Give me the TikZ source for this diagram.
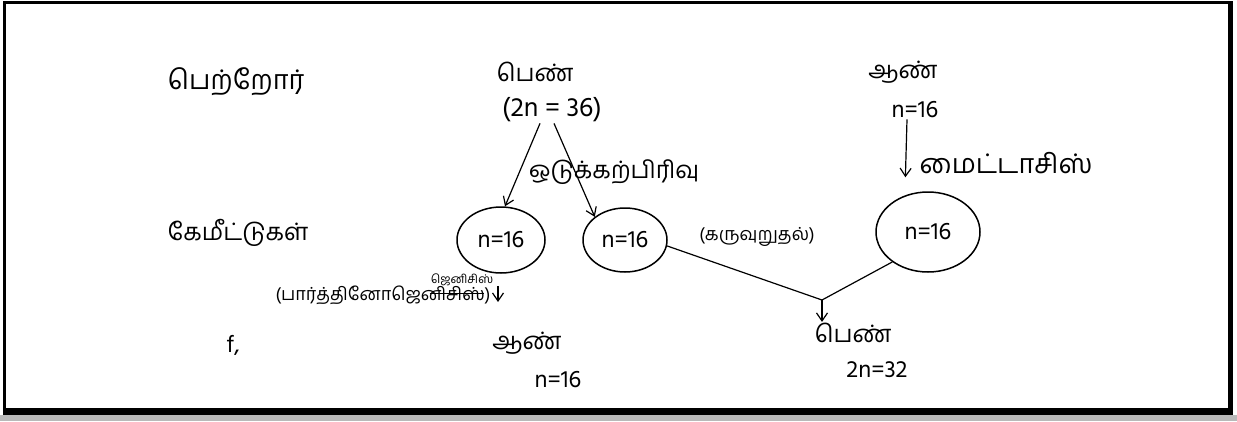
\documentclass[tikz,border=0pt]{standalone}
\usepackage{fontspec}
\usetikzlibrary{arrows.meta,shapes.geometric}
\newfontfamily\tamil[Script=Tamil]{Hind Madurai}
\begin{document}
\begin{tikzpicture}[x=1pt,y=-1pt,
  lbl/.style={font=\tamil\fontsize{24}{28}\selectfont, inner sep=1pt},
  big/.style={font=\tamil\fontsize{27}{30}\selectfont, inner sep=1pt},
  mid/.style={font=\tamil\fontsize{18}{22}\selectfont, inner sep=1pt},
  small/.style={font=\tamil\fontsize{12}{14}\selectfont, inner sep=1pt},
  cell/.style={draw, line width=1.5pt, ellipse, inner sep=0pt, font=\tamil\fontsize{24}{28}\selectfont},
  arr/.style={line width=1.2pt, -{Straight Barb[length=8pt,width=11pt]}},
  ln/.style={line width=1.2pt}]
\useasboundingbox (0,0) rectangle (1237,421);
\fill[white] (0,0) rectangle (1237,421);
% frame
\fill[black] (3,1) rectangle (1233,4);
\fill[black] (3,1) rectangle (6,415);
\fill[black] (1228,1) rectangle (1233,415);
\fill[black] (3,408) rectangle (1233,415);
\fill[gray!55] (0,415) rectangle (1237,421);
% labels
\node[big] (parent) at (236,82) {பெற்றோர்};
\node[lbl] (fem) at (535,72) {பெண்};
\node[big] (femn) at (552,110) {(2n = 36)};
\node[lbl] (male) at (903,72) {ஆண்};
\node[lbl] (malen) at (915,110) {n=16};
\node[lbl] (gam) at (238,233) {கேமீட்டுகள்};
\node[cell, minimum width=88pt, minimum height=66pt] (c1) at (501,240) {n=16};
\node[cell, minimum width=84pt, minimum height=64pt] (c2) at (625,240) {n=16};
\node[cell, minimum width=104pt, minimum height=80pt] (c3) at (928,232) {n=16};
\node[lbl] (meio) at (614,172) {ஒடுக்கற்பிரிவு};
\node[big] (mito) at (1006,163) {மைட்டாசிஸ்};
\node[mid] (fert) at (757,237) {(கருவுறுதல்)};
\node[mid] (parth) at (383,295) {(பார்த்தினோஜெனிசிஸ்)};
\node[small] (parthup) at (462,280) {ஜெனிசிஸ்};
\node[lbl] (son) at (527,343) {ஆண்};
\node[lbl] (sonn) at (558,380) {n=16};
\node[lbl] (dau) at (853,333) {பெண்};
\node[lbl] (daun) at (877,370) {2n=32};
\node[lbl] (fcomma) at (233,345) {f,};
% strike-out in parthenogenesis
\draw[line width=0.8pt] ([xshift=-62pt,yshift=2pt]parth.east) -- ([xshift=-8pt,yshift=2pt]parth.east);
% connectors
\draw[arr] ([xshift=-12pt]femn.south) -- ([xshift=4pt]c1.north);
\draw[arr] ([xshift=2pt]femn.south) -- (c2.north west);
\draw[arr, shorten >=14pt] ([xshift=-8pt]malen.south) -- ([xshift=-23pt]c3.north);
\coordinate (j) at (822,300);
\draw[ln] (c2.-8) -- (j);
\draw[ln] (c3.220) -- (j);
\draw[arr] (j) -- (j |- dau.north);
\coordinate (p1) at (498,302);
\draw[arr, shorten <=12pt] (c1.south -| p1) -- (p1);
\end{tikzpicture}
\end{document}
